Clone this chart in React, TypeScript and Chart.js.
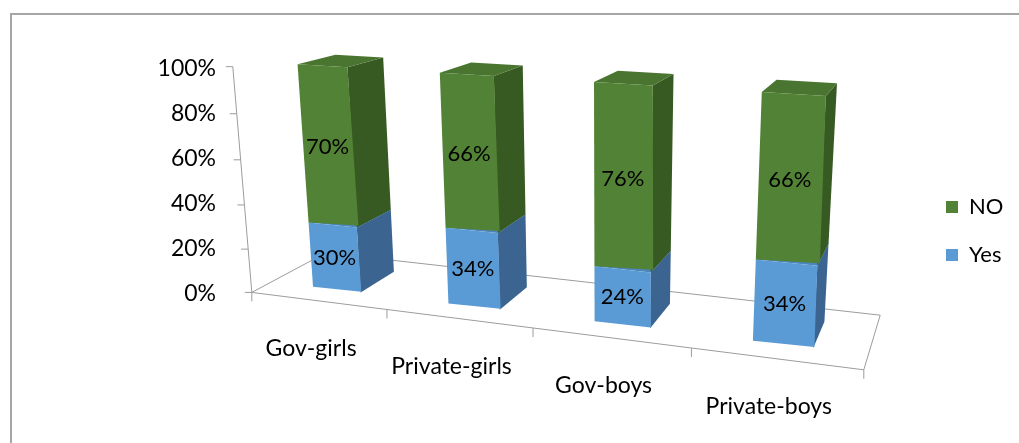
import React, { useEffect, useRef } from 'react';
import { Chart, registerables } from 'chart.js';

Chart.register(...registerables);

const categories = ['Gov-girls', 'Private-girls', 'Gov-boys', 'Private-boys'];
const yesValues = [30, 34, 24, 34];
const noValues = [70, 66, 76, 66];
const yesLabel = 'Yes';
const noLabel = 'NO';
const yMax = 100;
const yStep = 20;

const FONT = 'Lato, "Open Sans", sans-serif';

const faceColors: Record<string, { front: string; side: string; top: string }> = {
  Yes: { front: '#5B9BD5', side: '#3B6590', top: '#4C86BC' },
  NO: { front: '#528235', side: '#375A22', top: '#4A7530' },
};

// bar depth inside the floor (0 = front edge, 1 = back edge)
const BAR_DEPTH = [0.25, 0.75];

// perspective box: where the 8 corners of the plot cube [u, v, d] land on screen
const VIEW_BOX: number[][] = [
  [0, 0, 0, 251.8, 292.4],
  [1, 0, 0, 863.8, 369.8],
  [0, 1, 0, 232.8, 66.7],
  [1, 1, 0, 880.4, 106.6],
  [0, 0, 1, 325.9, 252.8],
  [1, 0, 1, 880.2, 315.2],
  [0, 1, 1, 312.4, 48.2],
  [1, 1, 1, 895.7, 80.4],
];

function solveProjection(pts: number[][]) {
  const n = 11;
  const M = Array.from({ length: n }, () => new Array(n + 1).fill(0));
  const addRow = (row: number[], rhs: number) => {
    for (let i = 0; i < n; i++) {
      for (let j = 0; j < n; j++) M[i][j] += row[i] * row[j];
      M[i][n] += row[i] * rhs;
    }
  };
  for (const [u, v, d, x, y] of pts) {
    addRow([u, v, d, 1, 0, 0, 0, 0, -x * u, -x * v, -x * d], x);
    addRow([0, 0, 0, 0, u, v, d, 1, -y * u, -y * v, -y * d], y);
  }
  for (let c = 0; c < n; c++) {
    let piv = c;
    for (let r = c + 1; r < n; r++) if (Math.abs(M[r][c]) > Math.abs(M[piv][c])) piv = r;
    const tmp = M[c]; M[c] = M[piv]; M[piv] = tmp;
    for (let r = 0; r < n; r++) {
      if (r === c) continue;
      const f = M[r][c] / M[c][c];
      for (let k = c; k <= n; k++) M[r][k] -= f * M[c][k];
    }
  }
  return M.map((row, i) => row[n] / row[i]);
}

const PM = solveProjection(VIEW_BOX);
function proj(u: number, v: number, d: number) {
  const w = PM[8] * u + PM[9] * v + PM[10] * d + 1;
  return {
    x: (PM[0] * u + PM[1] * v + PM[2] * d + PM[3]) / w,
    y: (PM[4] * u + PM[5] * v + PM[6] * d + PM[7]) / w,
  };
}

type Pt = { x: number; y: number };

const perspectivePlugin = {
  id: 'perspective3d',
  afterLayout(chart: any) {
    const lg = chart.legend;
    if (!lg || !lg.columnSizes || !lg.columnSizes.length) return;
    const pad = lg.options.labels.padding;
    const boxLeft = 946;
    const firstRowTop = 196;
    const w = lg.width;
    lg.left = boxLeft - pad;
    lg.right = lg.left + w;
    lg.top = firstRowTop - pad - 10;
    lg.bottom = firstRowTop + 10 + lg.columnSizes[0].height;
    lg.height = lg.bottom - lg.top;
  },
  beforeDatasetsDraw(chart: any) {
    const ctx: CanvasRenderingContext2D = chart.ctx;
    const area = chart.chartArea;
    const xs = chart.scales.x;
    const ys = chart.scales.y;
    const toU = (px: number) => (px - area.left) / (area.right - area.left);
    const toV = (py: number) => (area.bottom - py) / (area.bottom - area.top);
    const line = (a: Pt, b: Pt) => {
      ctx.beginPath();
      ctx.moveTo(a.x, a.y);
      ctx.lineTo(b.x, b.y);
      ctx.stroke();
    };
    const poly = (pts: Pt[], color: string) => {
      ctx.beginPath();
      ctx.moveTo(pts[0].x, pts[0].y);
      for (let i = 1; i < pts.length; i++) ctx.lineTo(pts[i].x, pts[i].y);
      ctx.closePath();
      ctx.fillStyle = color;
      ctx.fill();
    };

    ctx.save();
    ctx.strokeStyle = '#9c9c9c';
    ctx.lineWidth = 1;
    line(proj(0, 0, 0), proj(1, 0, 0));
    line(proj(0, 0, 1), proj(1, 0, 1));
    line(proj(0, 0, 0), proj(0, 0, 1));
    line(proj(1, 0, 0), proj(1, 0, 1));
    line(proj(0, 0, 0), proj(0, 1, 0));
    ys.ticks.forEach((t: any) => {
      const p = proj(0, toV(ys.getPixelForValue(t.value)), 0);
      line(p, { x: p.x - 7, y: p.y });
    });
    const n = chart.data.labels.length;
    for (let i = 0; i <= n; i++) {
      let px: number;
      if (i === 0) px = area.left;
      else if (i === n) px = area.right;
      else px = (xs.getPixelForValue(i - 1) + xs.getPixelForValue(i)) / 2;
      const p = proj(toU(px), 0, 0);
      line(p, { x: p.x, y: p.y + 9 });
    }
    ctx.restore();

    const [d0, d1] = BAR_DEPTH;
    chart.getSortedVisibleDatasetMetas().forEach((meta: any) => {
      const ds = chart.data.datasets[meta.index];
      const colors = faceColors[ds.label];
      meta.data.forEach((el: any) => {
        const { x, y, base, width } = el.getProps(['x', 'y', 'base', 'width'], true);
        const left = x - width / 2;
        const top = Math.min(y, base);
        const H = Math.abs(base - y);
        if (H <= 0) return;
        const uL = toU(left), uR = toU(left + width);
        const vT = toV(top), vB = toV(top + H);
        ctx.save();
        poly([proj(uR, vB, d0), proj(uR, vB, d1), proj(uR, vT, d1), proj(uR, vT, d0)], colors.side);
        poly([proj(uL, vT, d0), proj(uR, vT, d0), proj(uR, vT, d1), proj(uL, vT, d1)], colors.top);
        const tl = proj(uL, vT, d0), tr = proj(uR, vT, d0), bl = proj(uL, vB, d0);
        const a = (tr.x - tl.x) / width, b = (tr.y - tl.y) / width;
        const c = (bl.x - tl.x) / H, d = (bl.y - tl.y) / H;
        const e = tl.x - a * left - c * top, f = tl.y - b * left - d * top;
        ctx.transform(a, b, c, d, e, f);
        el.draw(ctx, area);
        ctx.restore();
      });
    });
    return false;
  },
  afterDraw(chart: any) {
    const ctx: CanvasRenderingContext2D = chart.ctx;
    const area = chart.chartArea;
    const xs = chart.scales.x;
    const toU = (px: number) => (px - area.left) / (area.right - area.left);
    const toV = (py: number) => (area.bottom - py) / (area.bottom - area.top);
    const [d0] = BAR_DEPTH;
    ctx.save();
    ctx.fillStyle = '#000';
    ctx.font = `22px ${FONT}`;
    ctx.textAlign = 'center';
    ctx.textBaseline = 'middle';
    chart.getSortedVisibleDatasetMetas().forEach((meta: any) => {
      const ds = chart.data.datasets[meta.index];
      meta.data.forEach((el: any, i: number) => {
        const { x, y, base } = el.getProps(['x', 'y', 'base'], true);
        const p = proj(toU(x), toV((y + base) / 2), d0);
        ctx.fillText(`${ds.data[i]}%`, p.x, p.y);
      });
    });
    ctx.font = `23px ${FONT}`;
    ctx.textBaseline = 'alphabetic';
    chart.data.labels.forEach((lab: string, i: number) => {
      const p = proj(toU(xs.getPixelForValue(i)), 0, 0);
      ctx.fillText(lab, p.x - 7, p.y + 55);
    });
    ctx.restore();
  },
};

export default function App() {
  const ref = useRef<HTMLCanvasElement>(null);
  useEffect(() => {
    if (!ref.current) return;
    Chart.defaults.font.family = FONT;
    const chart = new Chart(ref.current, {
      type: 'bar',
      data: {
        labels: categories,
        datasets: [
          { label: yesLabel, data: yesValues, backgroundColor: faceColors.Yes.front, borderWidth: 0 },
          { label: noLabel, data: noValues, backgroundColor: faceColors.NO.front, borderWidth: 0 },
        ],
      },
      options: {
        animation: false,
        responsive: false,
        devicePixelRatio: 1,
        layout: { padding: { top: 69, bottom: 149, left: 0, right: 10 } },
        datasets: { bar: { barPercentage: 0.36, categoryPercentage: 1 } },
        scales: {
          x: { display: false, stacked: true },
          y: {
            stacked: true,
            min: 0,
            max: yMax,
            ticks: {
              stepSize: yStep,
              callback: (v: any) => `${v}%`,
              padding: 16,
              color: '#000',
              font: { family: FONT, size: 23 },
            },
            grid: { display: false, drawTicks: false },
            border: { display: false },
            afterFit: (s: any) => { s.width = 232; },
          },
        },
        plugins: {
          legend: {
            position: 'right',
            reverse: true,
            labels: { boxWidth: 12, boxHeight: 12, padding: 26, color: '#000', font: { family: FONT, size: 22 } },
          },
          tooltip: { enabled: false },
        },
      } as any,
      plugins: [perspectivePlugin as any],
    });
    return () => chart.destroy();
  }, []);
  return (
    <div style={{ position: 'fixed', left: 0, top: 0, width: 1019, height: 443, overflow: 'hidden', background: '#fff' }}>
      <div style={{ position: 'absolute', left: 10, top: 13, width: 1100, height: 500, borderTop: '2px solid #a6a6a6', borderLeft: '2px solid #a6a6a6' }} />
      <canvas ref={ref} width={1019} height={443} style={{ position: 'absolute', left: 0, top: 0 }} />
    </div>
  );
}
